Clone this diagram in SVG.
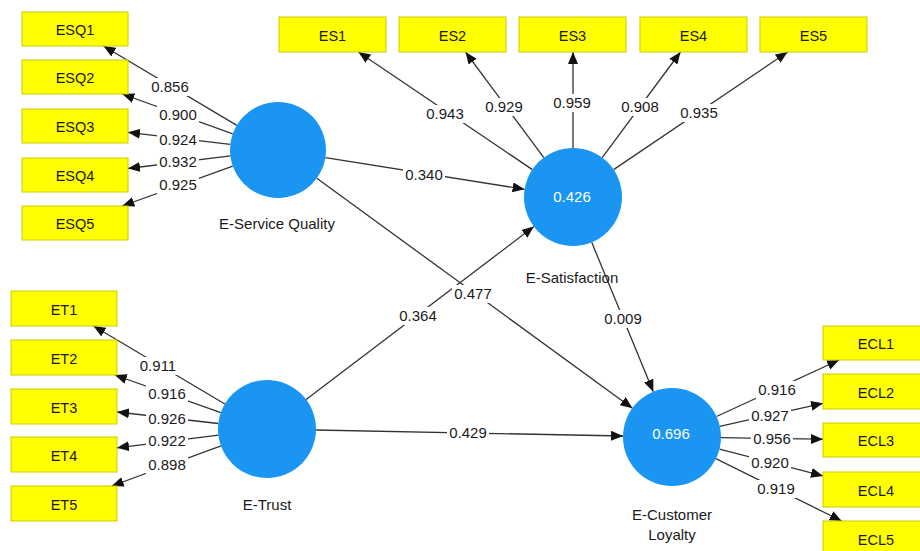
<svg xmlns="http://www.w3.org/2000/svg" width="920" height="551" viewBox="0 0 920 551">
<defs>
<marker id="arr" viewBox="0 0 12 10" markerWidth="12" markerHeight="10" refX="12" refY="5" orient="auto" markerUnits="userSpaceOnUse">
<path d="M0,0 L12,5 L0,10 z" fill="#111"/>
</marker>
<style>
.e{stroke:#333;stroke-width:1.3;fill:none;marker-end:url(#arr)}
.bx{fill:#ffff00;stroke:#cccc00;stroke-width:1}
.bt{font-family:"Liberation Sans",Arial,sans-serif;font-size:14.5px;fill:#1a1a1a;text-anchor:middle}
.lv{fill:#1a95f2}
.lt{font-family:"Liberation Sans",Arial,sans-serif;font-size:15px;fill:#1a1a1a;text-anchor:middle}
.it{font-family:"Liberation Sans",Arial,sans-serif;font-size:15px;fill:#ffffff;text-anchor:middle}
.lb{fill:#ffffff}
.nt{font-family:"Liberation Sans",Arial,sans-serif;font-size:15px;fill:#1a1a1a;text-anchor:middle}
</style>
</defs>
<rect width="920" height="551" fill="#ffffff"/>
<g id="connectors">
<line class="e" x1="236.8" y1="125.4" x2="103.5" y2="46"/>
<line class="e" x1="232.8" y1="133.8" x2="122.3" y2="94"/>
<line class="e" x1="230.3" y1="144.4" x2="128" y2="132.3"/>
<line class="e" x1="230.4" y1="155.9" x2="128" y2="168.5"/>
<line class="e" x1="232.8" y1="166.2" x2="122.3" y2="206"/>
<line class="e" x1="532.4" y1="169.6" x2="358.4" y2="52"/>
<line class="e" x1="543.8" y1="157.6" x2="465.5" y2="52"/>
<line class="e" x1="573" y1="148" x2="573" y2="52"/>
<line class="e" x1="602.2" y1="157.6" x2="680.5" y2="52"/>
<line class="e" x1="613.6" y1="169.6" x2="787.6" y2="52"/>
<line class="e" x1="224.9" y1="404" x2="93.5" y2="326"/>
<line class="e" x1="220.8" y1="412.6" x2="114.8" y2="375"/>
<line class="e" x1="218.3" y1="423.5" x2="117" y2="412"/>
<line class="e" x1="218.4" y1="435.1" x2="117" y2="447.8"/>
<line class="e" x1="221" y1="445.9" x2="111.7" y2="486"/>
<line class="e" x1="716.5" y1="416.5" x2="839.1" y2="360"/>
<line class="e" x1="719.8" y1="426.3" x2="823" y2="403.3"/>
<line class="e" x1="721" y1="437.7" x2="823" y2="439.2"/>
<line class="e" x1="719.5" y1="449.2" x2="823" y2="475.9"/>
<line class="e" x1="715.9" y1="458.7" x2="841.7" y2="521"/>
<line class="e" x1="325.4" y1="157.6" x2="524.6" y2="189.3"/>
<line class="e" x1="316.8" y1="178.3" x2="632.4" y2="408.2"/>
<line class="e" x1="306.1" y1="399.4" x2="533.9" y2="226.6"/>
<line class="e" x1="316" y1="430" x2="623" y2="436"/>
<line class="e" x1="591.7" y1="242.3" x2="653.3" y2="391.7"/>
<g id="edge-labels">
<rect class="lb" x="149" y="78" width="42" height="18"/><text class="nt" x="170" y="92">0.856</text>
<rect class="lb" x="157" y="106" width="42" height="18"/><text class="nt" x="178" y="120">0.900</text>
<rect class="lb" x="157" y="131" width="42" height="18"/><text class="nt" x="178" y="145">0.924</text>
<rect class="lb" x="157" y="153" width="42" height="18"/><text class="nt" x="178" y="167">0.932</text>
<rect class="lb" x="157" y="176" width="42" height="18"/><text class="nt" x="178" y="190">0.925</text>
<rect class="lb" x="424" y="105" width="42" height="18"/><text class="nt" x="445" y="119">0.943</text>
<rect class="lb" x="483" y="98" width="42" height="18"/><text class="nt" x="504" y="112">0.929</text>
<rect class="lb" x="551" y="94" width="42" height="18"/><text class="nt" x="572" y="108">0.959</text>
<rect class="lb" x="619" y="98" width="42" height="18"/><text class="nt" x="640" y="112">0.908</text>
<rect class="lb" x="678" y="104" width="42" height="18"/><text class="nt" x="699" y="118">0.935</text>
<rect class="lb" x="137" y="357" width="42" height="18"/><text class="nt" x="158" y="371">0.911</text>
<rect class="lb" x="146" y="385" width="42" height="18"/><text class="nt" x="167" y="399">0.916</text>
<rect class="lb" x="146" y="410" width="42" height="18"/><text class="nt" x="167" y="424">0.926</text>
<rect class="lb" x="146" y="432" width="42" height="18"/><text class="nt" x="167" y="446">0.922</text>
<rect class="lb" x="146" y="456" width="42" height="18"/><text class="nt" x="167" y="470">0.898</text>
<rect class="lb" x="756" y="381" width="42" height="18"/><text class="nt" x="777" y="395">0.916</text>
<rect class="lb" x="749" y="407" width="42" height="18"/><text class="nt" x="770" y="421">0.927</text>
<rect class="lb" x="751" y="430" width="42" height="18"/><text class="nt" x="772" y="444">0.956</text>
<rect class="lb" x="749" y="454" width="42" height="18"/><text class="nt" x="770" y="468">0.920</text>
<rect class="lb" x="755" y="480" width="42" height="18"/><text class="nt" x="776" y="494">0.919</text>
<rect class="lb" x="403" y="166" width="42" height="18"/><text class="nt" x="424" y="180">0.340</text>
<rect class="lb" x="452" y="285" width="42" height="18"/><text class="nt" x="473" y="299">0.477</text>
<rect class="lb" x="397" y="307" width="42" height="18"/><text class="nt" x="418" y="321">0.364</text>
<rect class="lb" x="447" y="424" width="42" height="18"/><text class="nt" x="468" y="438">0.429</text>
<rect class="lb" x="602" y="310" width="42" height="18"/><text class="nt" x="623" y="324">0.009</text>
</g>
</g>
<g id="ESQ1"><rect class="bx" x="22" y="12" width="106" height="34"/><text class="bt" x="75" y="35">ESQ1</text></g>
<g id="ESQ2"><rect class="bx" x="22" y="60" width="106" height="34"/><text class="bt" x="75" y="83">ESQ2</text></g>
<g id="ESQ3"><rect class="bx" x="22" y="109" width="106" height="34"/><text class="bt" x="75" y="132">ESQ3</text></g>
<g id="ESQ4"><rect class="bx" x="22" y="158" width="106" height="34"/><text class="bt" x="75" y="181">ESQ4</text></g>
<g id="ESQ5"><rect class="bx" x="22" y="206" width="106" height="34"/><text class="bt" x="75" y="229">ESQ5</text></g>
<g id="ES1"><rect class="bx" x="279" y="17" width="107" height="35"/><text class="bt" x="332.5" y="40.5">ES1</text></g>
<g id="ES2"><rect class="bx" x="399" y="17" width="107" height="35"/><text class="bt" x="452.5" y="40.5">ES2</text></g>
<g id="ES3"><rect class="bx" x="519" y="17" width="107" height="35"/><text class="bt" x="572.5" y="40.5">ES3</text></g>
<g id="ES4"><rect class="bx" x="640" y="17" width="107" height="35"/><text class="bt" x="693.5" y="40.5">ES4</text></g>
<g id="ES5"><rect class="bx" x="760" y="17" width="107" height="35"/><text class="bt" x="813.5" y="40.5">ES5</text></g>
<g id="ET1"><rect class="bx" x="11" y="291" width="106" height="35"/><text class="bt" x="64" y="314.5">ET1</text></g>
<g id="ET2"><rect class="bx" x="11" y="340" width="106" height="35"/><text class="bt" x="64" y="363.5">ET2</text></g>
<g id="ET3"><rect class="bx" x="11" y="389" width="106" height="35"/><text class="bt" x="64" y="412.5">ET3</text></g>
<g id="ET4"><rect class="bx" x="11" y="437" width="106" height="35"/><text class="bt" x="64" y="460.5">ET4</text></g>
<g id="ET5"><rect class="bx" x="11" y="486" width="106" height="35"/><text class="bt" x="64" y="509.5">ET5</text></g>
<g id="ECL1"><rect class="bx" x="823" y="326" width="106" height="34"/><text class="bt" x="876" y="349">ECL1</text></g>
<g id="ECL2"><rect class="bx" x="823" y="374" width="106" height="35"/><text class="bt" x="876" y="397.5">ECL2</text></g>
<g id="ECL3"><rect class="bx" x="823" y="423" width="106" height="34"/><text class="bt" x="876" y="446">ECL3</text></g>
<g id="ECL4"><rect class="bx" x="823" y="472" width="106" height="35"/><text class="bt" x="876" y="495.5">ECL4</text></g>
<g id="ECL5"><rect class="bx" x="823" y="521" width="106" height="35"/><text class="bt" x="876" y="544.5">ECL5</text></g>
<g id="E-Service-Quality"><circle class="lv" cx="278" cy="150" r="48"/><text class="lt" x="277" y="229">E-Service Quality</text></g>
<g id="E-Satisfaction"><circle class="lv" cx="573" cy="197" r="49"/><text class="it" x="572" y="202">0.426</text><text class="lt" x="572" y="283">E-Satisfaction</text></g>
<g id="E-Trust"><circle class="lv" cx="267" cy="429" r="49"/><text class="lt" x="267" y="510">E-Trust</text></g>
<g id="E-Customer-Loyalty"><circle class="lv" cx="672" cy="437" r="49"/><text class="it" x="671" y="439">0.696</text><text class="lt" x="672" y="520">E-Customer</text><text class="lt" x="672" y="540">Loyalty</text></g>
</svg>
